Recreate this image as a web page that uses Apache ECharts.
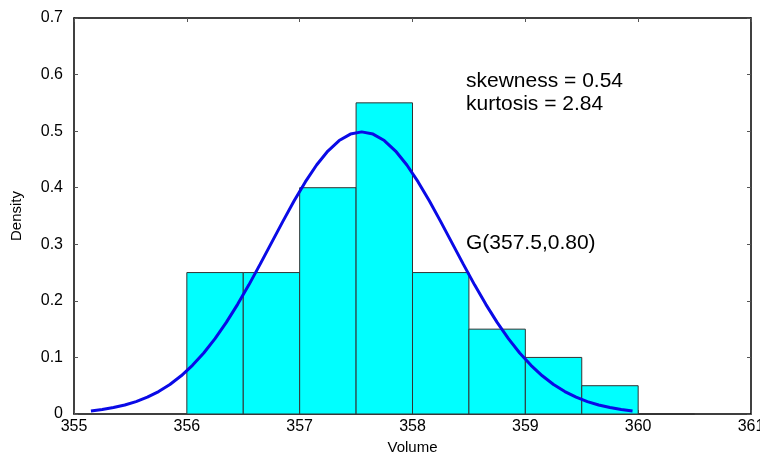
<!DOCTYPE html>
<html>
<head>
<meta charset="utf-8">
<style>
  html, body { margin: 0; padding: 0; background: #fff; }
  #chart { width: 760px; height: 455px; }
</style>
<script src="https://cdn.jsdelivr.net/npm/echarts@6/dist/echarts.min.js"></script>
</head>
<body>
<div id="chart"></div>
<script>
// histogram bins (left edge) and density
const binStart = [356, 356.5, 357, 357.5, 358, 358.5, 359, 359.5, 360];
const density = [0.25, 0.25, 0.4, 0.55, 0.25, 0.15, 0.1, 0.05, 0];
const binWidth = 0.5;

// fitted curve
const curveX = [355.15, 355.25, 355.35, 355.45, 355.55, 355.65, 355.75, 355.85, 355.95, 356.05,
  356.15, 356.25, 356.35, 356.45, 356.55, 356.65, 356.75, 356.85, 356.95, 357.05,
  357.15, 357.25, 357.35, 357.45, 357.55, 357.65, 357.75, 357.85, 357.95, 358.05,
  358.15, 358.25, 358.35, 358.45, 358.55, 358.65, 358.75, 358.85, 358.95, 359.05,
  359.15, 359.25, 359.35, 359.45, 359.55, 359.65, 359.75, 359.85, 359.95];
const curveY = [0.0055, 0.0080, 0.0114, 0.0159, 0.0219, 0.0297, 0.0397, 0.0522, 0.0675, 0.0860,
  0.1079, 0.1332, 0.1619, 0.1938, 0.2283, 0.2649, 0.3025, 0.3401, 0.3764, 0.4102,
  0.4401, 0.4648, 0.4834, 0.4948, 0.4987, 0.4948, 0.4834, 0.4648, 0.4401, 0.4102,
  0.3764, 0.3401, 0.3025, 0.2649, 0.2283, 0.1938, 0.1619, 0.1332, 0.1079, 0.0860,
  0.0675, 0.0522, 0.0397, 0.0297, 0.0219, 0.0159, 0.0114, 0.0080, 0.0055];

const xTicks = [355, 356, 357, 358, 359, 360, 361];
const yTicks = [0, 0.1, 0.2, 0.3, 0.4, 0.5, 0.6, 0.7];

const font = 'Liberation Sans, Arial, sans-serif';

const chart = echarts.init(document.getElementById('chart'));

const xBase = {
  type: 'value', min: xTicks[0], max: xTicks[xTicks.length - 1], interval: 1,
  axisLine: { show: true, onZero: false, lineStyle: { color: '#000', width: 1.5 } },
  axisTick: { show: true, inside: true, length: 4, lineStyle: { color: '#555' } },
  splitLine: { show: false }
};
const yBase = {
  type: 'value', min: yTicks[0], max: yTicks[yTicks.length - 1], interval: 0.1,
  axisLine: { show: true, onZero: false, lineStyle: { color: '#000', width: 1.5 } },
  axisTick: { show: true, inside: true, length: 4, lineStyle: { color: '#555' } },
  splitLine: { show: false }
};

chart.setOption({
  animation: false,
  grid: { left: 74, right: 9, top: 18, bottom: 41, containLabel: false, outerBoundsMode: 'none' },
  xAxis: [
    Object.assign({}, xBase, {
      position: 'bottom',
      name: 'Volume', nameLocation: 'middle', nameGap: 26,
      nameTextStyle: { fontFamily: font, fontSize: 15, color: '#000' },
      axisLabel: { fontFamily: font, fontSize: 16, color: '#000', margin: 5 }
    }),
    Object.assign({}, xBase, { position: 'top', axisLabel: { show: false } })
  ],
  yAxis: [
    Object.assign({}, yBase, {
      position: 'left',
      name: 'Density', nameLocation: 'middle', nameGap: 50,
      nameTextStyle: { fontFamily: font, fontSize: 15, color: '#000' },
      axisLabel: { fontFamily: font, fontSize: 16, color: '#000', margin: 11,
        formatter: v => String(Math.round(v * 10) / 10) }
    }),
    Object.assign({}, yBase, { position: 'right', axisLabel: { show: false } })
  ],
  series: [
    {
      type: 'custom',
      xAxisIndex: 0, yAxisIndex: 0,
      data: binStart.map((b, i) => [b, density[i]]),
      renderItem: function (params, api) {
        const x0 = api.value(0);
        const p0 = api.coord([x0, api.value(1)]);
        const p1 = api.coord([x0 + binWidth, 0]);
        return {
          type: 'rect',
          shape: { x: p0[0], y: p0[1], width: p1[0] - p0[0], height: p1[1] - p0[1] },
          style: { fill: '#00ffff', stroke: '#333', lineWidth: 1 }
        };
      },
      z: 2
    },
    {
      type: 'line',
      xAxisIndex: 0, yAxisIndex: 0,
      data: curveX.map((x, i) => [x, curveY[i]]),
      smooth: false,
      showSymbol: false,
      lineStyle: { color: '#0a0ae6', width: 3 },
      z: 3
    }
  ],
  graphic: [
    { type: 'text', left: 466, top: 71, style: { text: 'skewness = 0.54', font: '21px ' + font, fill: '#000' } },
    { type: 'text', left: 466, top: 94, style: { text: 'kurtosis = 2.84', font: '21px ' + font, fill: '#000' } },
    { type: 'text', left: 466, top: 233, style: { text: 'G(357.5,0.80)', font: '21px ' + font, fill: '#000' } }
  ]
});
</script>
</body>
</html>
